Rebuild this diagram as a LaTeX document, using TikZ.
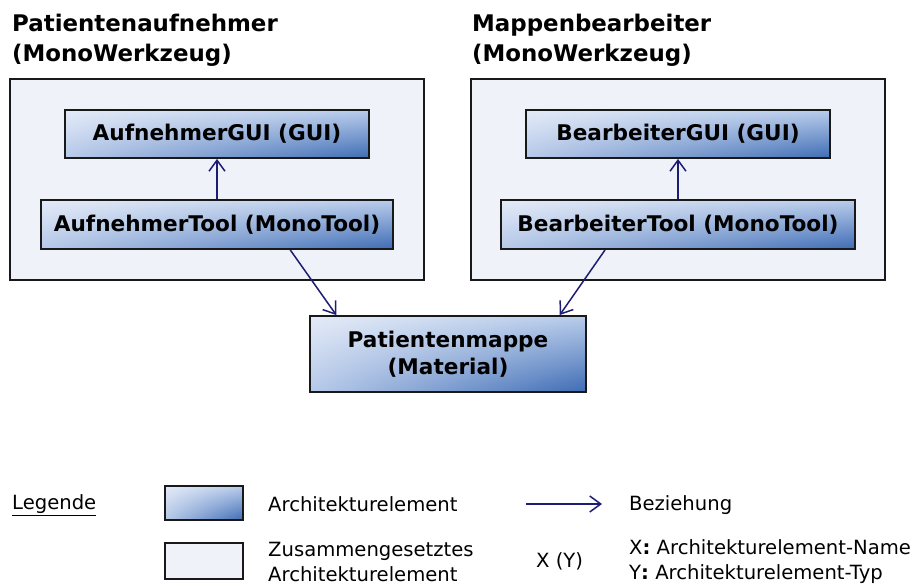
\documentclass[tikz,border=0pt]{standalone}
\usepackage{fontspec}
\setmainfont{DejaVu Sans}
\usetikzlibrary{arrows.meta,calc,shadings}

\definecolor{compfill}{RGB}{239,242,248}
\definecolor{relblue}{RGB}{28,28,115}
\definecolor{elemUL}{RGB}{228,235,247}
\definecolor{elemUR}{RGB}{184,204,235}
\definecolor{elemLL}{RGB}{182,201,233}
\definecolor{elemLR}{RGB}{62,108,180}
\definecolor{frame}{RGB}{25,25,25}

\tikzset{
  elem/.style={draw=frame, line width=1.9pt,
    upper left=elemUL, upper right=elemUR, lower left=elemLL, lower right=elemLR,
    inner sep=0pt, align=center,
    font=\bfseries\fontsize{21.6}{27}\selectfont},
  comp/.style={draw=frame, line width=1.9pt, fill=compfill, inner sep=0pt},
  rel/.style={draw=relblue, line width=1.5pt,
    -{Straight Barb[length=11pt,width=16pt,line width=1.5pt]}},
  title/.style={anchor=north west, inner sep=0pt, align=left,
    font=\bfseries\fontsize{22.9}{30}\selectfont},
  legtext/.style={anchor=west, inner sep=0pt, align=left,
    font=\fontsize{19.6}{25}\selectfont}
}

\begin{document}
\begin{tikzpicture}[x=1pt,y=-1pt]
\useasboundingbox (0,0) rectangle (914,588);

% left composite tool
\node[title] (t1) at (12,14) {Patientenaufnehmer\\(MonoWerkzeug)};
\node[comp, minimum width=414pt, minimum height=201pt] (outer1) at (217,179.5) {};
\node[elem, minimum width=304pt, minimum height=48pt] (gui1) at (217,134) {AufnehmerGUI (GUI)};
\node[elem, minimum width=352pt, minimum height=49pt] (tool1) at (217,224.5) {AufnehmerTool (MonoTool)};

% right composite tool
\node[title] (t2) at (472,14) {Mappenbearbeiter\\(MonoWerkzeug)};
\node[comp, minimum width=414pt, minimum height=201pt] (outer2) at (678,179.5) {};
\node[elem, minimum width=304pt, minimum height=48pt] (gui2) at (678,134) {BearbeiterGUI (GUI)};
\node[elem, minimum width=354pt, minimum height=49pt] (tool2) at (678,224.5) {BearbeiterTool (MonoTool)};

% shared material
\node[elem, minimum width=276pt, minimum height=76pt] (mappe) at (448,354) {Patientenmappe\\(Material)};

% relations
\draw[rel] (tool1.north) -- (gui1.south);
\draw[rel] (tool2.north) -- (gui2.south);
\draw[rel] ($(tool1.south west)!0.707!(tool1.south east)$) -- ($(mappe.north west)!0.098!(mappe.north east)$);
\draw[rel] ($(tool2.south west)!0.295!(tool2.south east)$) -- ($(mappe.north west)!0.902!(mappe.north east)$);

% legend
\node[legtext] (leg) at (12,505) {\underline{Legende}};
\node[elem, minimum width=78pt, minimum height=34pt] (legelem) at (204,503) {};
\node[legtext] (legelemtxt) at (268,504) {Architekturelement};
\node[comp, minimum width=78pt, minimum height=36pt] (legcomp) at (204,561) {};
\node[legtext] (legcomptxt) at (268,562) {Zusammengesetztes\\Architekturelement};
\coordinate (arrA) at (526,504);
\coordinate (arrB) at (602,504);
\draw[rel] (arrA) -- (arrB);
\node[legtext] (legreltxt) at (629,505) {Beziehung};
\node[legtext] (xy) at (536,561) {X (Y)};
\node[legtext] (xytxt) at (629,562) {X\textbf{:} Architekturelement-Name\\Y\textbf{:} Architekturelement-Typ};
\end{tikzpicture}
\end{document}
